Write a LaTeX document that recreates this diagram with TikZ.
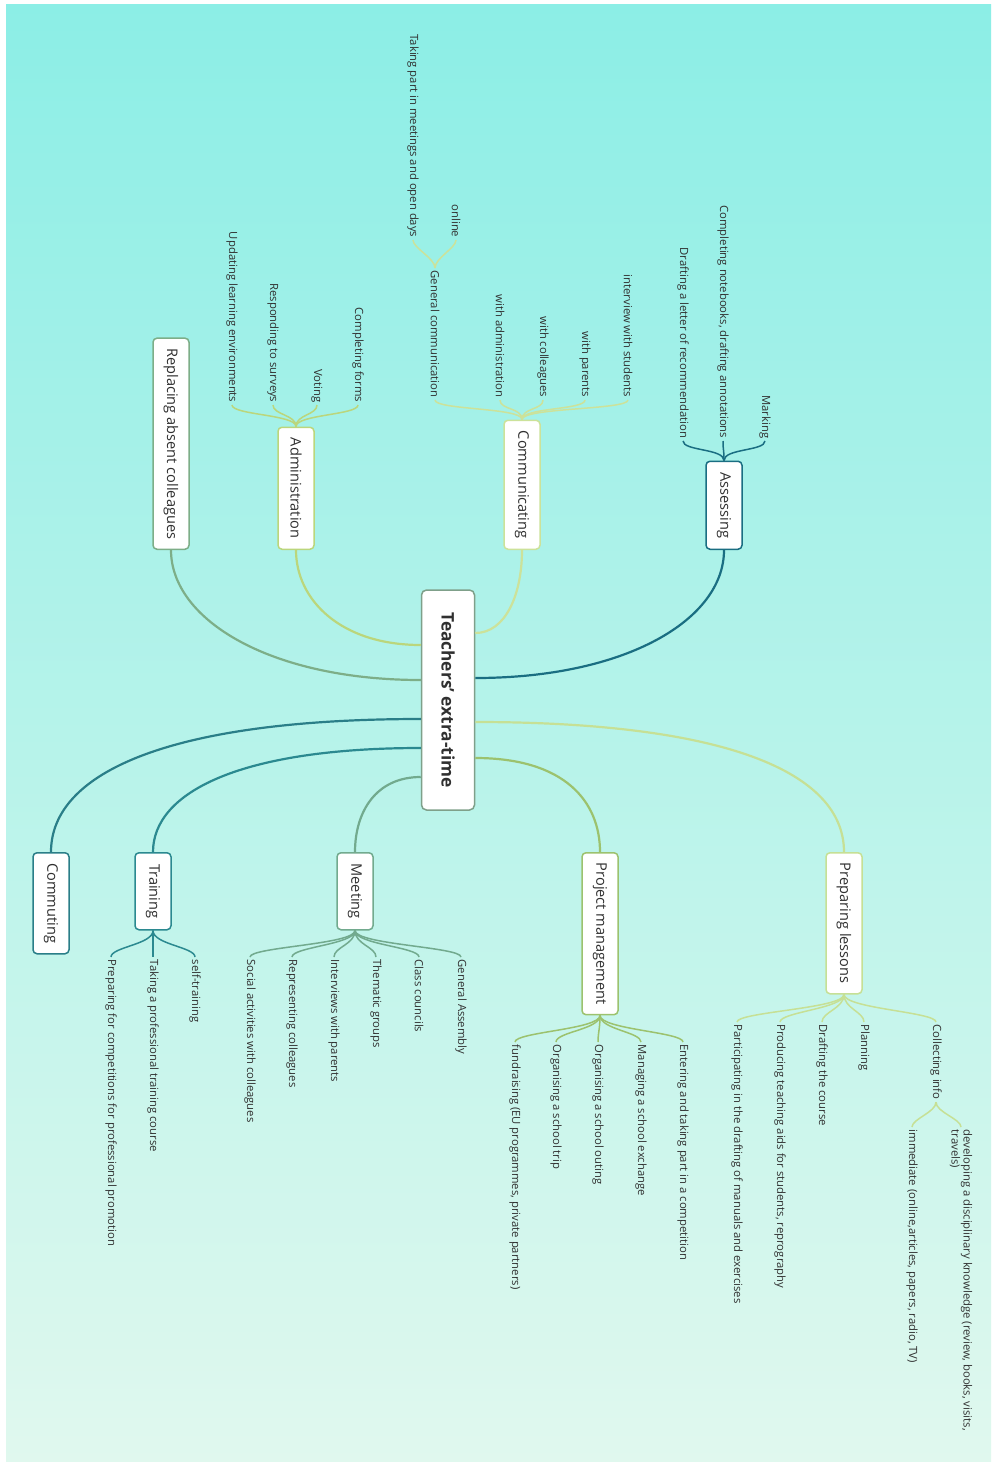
\documentclass[tikz,border=0pt]{standalone}
\usepackage{fontspec}
\setmainfont{Open Sans}
\usetikzlibrary{calc}
\definecolor{bgtop}{HTML}{8CEEE6}
\definecolor{bgmid}{HTML}{C6F4F0}
\definecolor{bgbot}{HTML}{E0F8EE}
\definecolor{txt}{HTML}{303030}
\definecolor{cborder}{HTML}{7FA08A}
\definecolor{cassess}{HTML}{1A6E82}
\definecolor{ccomm}{HTML}{CCE29A}
\definecolor{cadmin}{HTML}{BBD67C}
\definecolor{crepl}{HTML}{7DAE88}
\definecolor{cprep}{HTML}{C6E095}
\definecolor{cproj}{HTML}{9CC26E}
\definecolor{cmeet}{HTML}{72AA8E}
\definecolor{ctrain}{HTML}{2B8990}
\definecolor{ccomm2}{HTML}{2A7E88}
\begin{document}
\begin{tikzpicture}[x=1pt,y=-1pt,
  box/.style={draw, rounded corners=4pt, fill=white, rotate=-90, line width=1.5pt,
    minimum height=36pt, inner xsep=10pt, font=\fontsize{14.6}{16}\selectfont, text=txt},
  sub/.style={rotate=-90, font=\fontsize{11.3}{13}\selectfont, text=txt, inner sep=2.5pt},
  mainln/.style={line width=2.2pt},
  subln/.style={line width=1.5pt}]
\useasboundingbox (0,0) rectangle (997,1466);
\fill[white] (0,0) rectangle (997,1466);
\shade[top color=bgtop, middle color=bgmid, bottom color=bgbot] (6,5) rectangle (991,1461);

% central node
\node[draw=cborder, fill=white, rounded corners=5pt, rotate=-90, minimum width=220pt,
  minimum height=53pt, line width=1.5pt, text=txt, font=\bfseries\fontsize{17.3}{20}\selectfont]
  (c) at (448,700) {Teachers' extra-time};

% main branch boxes (upper)
\node[box, draw=cassess, anchor=east, minimum width=88pt] (asse) at (724,550) {Assessing};
\node[box, draw=ccomm, anchor=east, minimum width=129pt] (comm) at (522,550) {Communicating};
\node[box, draw=cadmin, anchor=east, minimum width=122pt] (admi) at (296,550) {Administration};
\node[box, draw=crepl, anchor=east, minimum width=208pt] (repl) at (171,550) {Replacing absent colleagues};
% main branch boxes (lower)
\node[box, draw=cprep, anchor=west, minimum width=141pt] (prep) at (844,852) {Preparing lessons};
\node[box, draw=cproj, anchor=west, minimum width=161pt] (proj) at (600,852) {Project management};
\node[box, draw=cmeet, anchor=west, minimum width=77pt] (meet) at (355,852) {Meeting};
\node[box, draw=ctrain, anchor=west, minimum width=77pt] (trai) at (153,852) {Training};
\node[box, draw=ccomm2, anchor=west, minimum width=101pt] (comu) at (51,852) {Commuting};

% main connectors
\draw[mainln, cassess] ($(c.north)+(0,-22)$) .. controls +(150,0) and +(0,70) .. (asse.east);
\draw[mainln, ccomm] ($(c.north)+(0,-67)$) .. controls +(30,0) and +(0,45) .. (comm.east);
\draw[mainln, cadmin] ($(c.south)+(0,-55)$) .. controls +(-80,0) and +(0,50) .. (admi.east);
\draw[mainln, crepl] ($(c.south)+(0,-20)$) .. controls +(-150,0) and +(0,70) .. (repl.east);
\draw[mainln, ccomm2] ($(c.south)+(0,19)$) .. controls +(-250,0) and +(0,-80) .. (comu.west);
\draw[mainln, ctrain] ($(c.south)+(0,48)$) .. controls +(-180,0) and +(0,-60) .. (trai.west);
\draw[mainln, cmeet] ($(c.south)+(0,77)$) .. controls +(-45,0) and +(0,-40) .. (meet.west);
\draw[mainln, cprep] ($(c.north)+(0,22)$) .. controls +(250,0) and +(0,-80) .. (prep.west);
\draw[mainln, cproj] ($(c.north)+(0,58)$) .. controls +(90,0) and +(0,-50) .. (proj.west);

% Assessing
\node[sub, anchor=east] (a1) at (683,441) {Drafting a letter of recommendation};
\node[sub, anchor=east] (a2) at (723,441) {Completing notebooks, drafting annotations};
\node[sub, anchor=east] (a3) at (765,441) {Marking};
\foreach \n in {a1,a2,a3}
  \draw[subln, cassess] (asse.west) .. controls +(0,-12) and +(0,10) .. (\n.east);

% Communicating
\node[sub, anchor=east] (m1) at (435,400) {General communication};
\node[sub, anchor=east] (m2) at (500,400) {with administration};
\node[sub, anchor=east] (m3) at (543,400) {with colleagues};
\node[sub, anchor=east] (m4) at (585,400) {with parents};
\node[sub, anchor=east] (m5) at (628,400) {interview with students};
\foreach \n in {m1,m2,m3,m4,m5}
  \draw[subln, ccomm] (comm.west) .. controls +(0,-12) and +(0,10) .. (\n.east);
\node[sub, anchor=east] (m11) at (413,240) {Taking part in meetings and open days};
\node[sub, anchor=east] (m12) at (456,240) {online};
\foreach \n in {m11,m12}
  \draw[subln, ccomm] (m1.west) .. controls +(0,-10) and +(0,8) .. (\n.east);

% Administration
\node[sub, anchor=east] (d1) at (232,405) {Updating learning environments};
\node[sub, anchor=east] (d2) at (273,405) {Responding to surveys};
\node[sub, anchor=east] (d3) at (317,405) {Voting};
\node[sub, anchor=east] (d4) at (358,405) {Completing forms};
\foreach \n in {d1,d2,d3,d4}
  \draw[subln, cadmin] (admi.west) .. controls +(0,-12) and +(0,10) .. (\n.east);

% Preparing lessons
\node[sub, anchor=west] (p1) at (737,1022) {Participating in the drafting of manuals and exercises};
\node[sub, anchor=west] (p2) at (780,1022) {Producing teaching aids for students, reprography};
\node[sub, anchor=west] (p3) at (822,1022) {Drafting the course};
\node[sub, anchor=west] (p4) at (864,1022) {Planning};
\node[sub, anchor=west] (p5) at (936,1022) {Collecting info};
\foreach \n in {p1,p2,p3,p4,p5}
  \draw[subln, cprep] (prep.east) .. controls +(0,14) and +(0,-10) .. (\n.west);
\node[sub, anchor=west] (p51) at (912,1127) {immediate (online,articles, papers, radio, TV)};
\node[sub, anchor=west, align=left, font=\fontsize{11.3}{12}\selectfont] (p52) at (961,1127)
  {developing a disciplinary knowledge (review, books, visits,\\travels)};
\foreach \n in {p51,p52}
  \draw[subln, cprep] (p5.east) .. controls +(0,10) and +(0,-8) .. (\n.west);

% Project management
\node[sub, anchor=west] (j1) at (515,1042) {fundraising (EU programmes, private partners)};
\node[sub, anchor=west] (j2) at (556,1042) {Organising a school trip};
\node[sub, anchor=west] (j3) at (598,1042) {Organising a school outing};
\node[sub, anchor=west] (j4) at (641,1042) {Managing a school exchange};
\node[sub, anchor=west] (j5) at (683,1042) {Entering and taking part in a competition};
\foreach \n in {j1,j2,j3,j4,j5}
  \draw[subln, cproj] (proj.east) .. controls +(0,14) and +(0,-10) .. (\n.west);

% Meeting
\node[sub, anchor=west] (e1) at (250,957) {Social activities with colleagues};
\node[sub, anchor=west] (e2) at (292,957) {Representing colleagues};
\node[sub, anchor=west] (e3) at (334,957) {Interviews with parents};
\node[sub, anchor=west] (e4) at (376,957) {Thematic groups};
\node[sub, anchor=west] (e5) at (419,957) {Class councils};
\node[sub, anchor=west] (e6) at (461,957) {General Assembly};
\foreach \n in {e1,e2,e3,e4,e5,e6}
  \draw[subln, cmeet] (meet.east) .. controls +(0,14) and +(0,-10) .. (\n.west);

% Training
\node[sub, anchor=west] (t1) at (111,957) {Preparing for competitions for professional promotion};
\node[sub, anchor=west] (t2) at (153,957) {Taking a professional training course};
\node[sub, anchor=west] (t3) at (195,957) {self-training};
\foreach \n in {t1,t2,t3}
  \draw[subln, ctrain] (trai.east) .. controls +(0,14) and +(0,-10) .. (\n.west);
\end{tikzpicture}
\end{document}
